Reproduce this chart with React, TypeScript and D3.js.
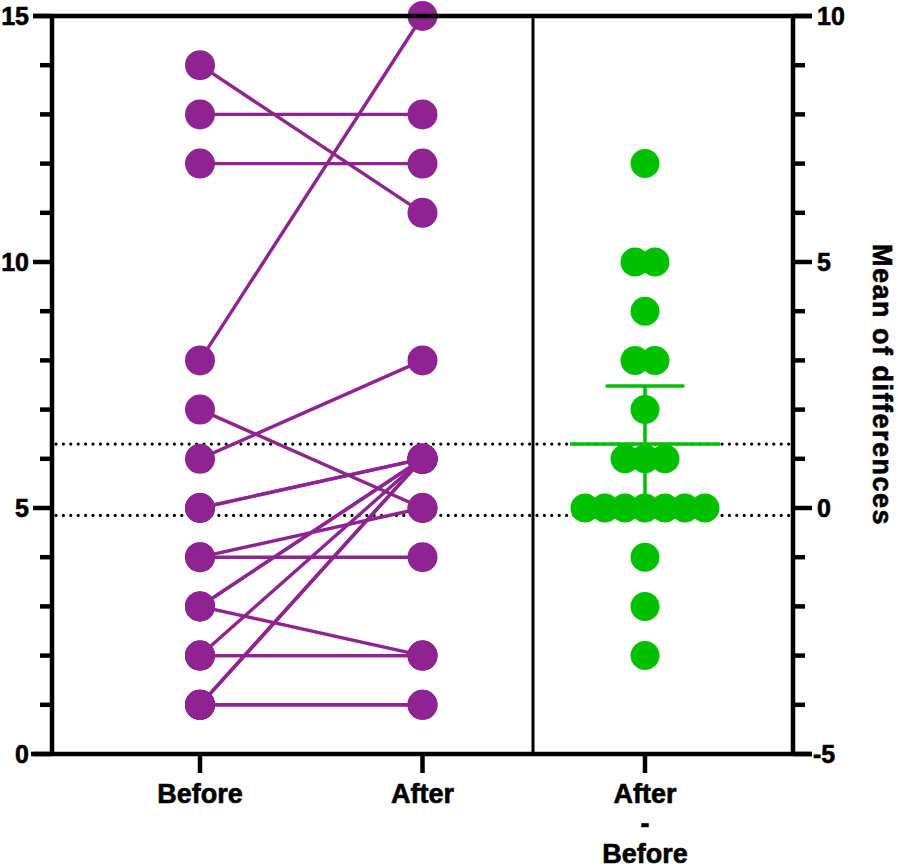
import React from "react";
import * as d3 from "d3";

// paired observations, one entry per subject
const beforeVals = [14, 13, 12, 8, 7, 6, 5, 5, 4, 4, 3, 3, 3, 2, 2, 2, 1, 1, 1, 1];
const afterVals = [11, 13, 12, 15, 5, 8, 6, 6, 5, 4, 6, 6, 2, 6, 2, 2, 6, 6, 1, 1];
const groups = ["Before", "After", "Diff"];
const groupLabels = [["Before"], ["After"], ["After", "-", "Before"]];
const leftDomain = [0, 15];
const rightDomain = [-5, 10];
const tCrit = 2.093; // t(0.975, df = 19)

const W = 898;
const H = 868;
const PURPLE = "#8f2391";
const GREEN = "#00c000";
const FONT = "'Liberation Sans', Arial, Helvetica, sans-serif";

export default function App() {
  const top = 16;
  const bottom = 754;
  const axL = 52;
  const axR = 793;
  const divX = 533;

  const yL = d3.scaleLinear().domain(leftDomain).range([bottom, top]);
  const yR = d3.scaleLinear().domain(rightDomain).range([bottom, top]);
  const x = d3.scalePoint().domain(groups).range([200, 645]);

  const diffs = beforeVals.map((b, i) => afterVals[i] - b);
  const meanBefore = d3.mean(beforeVals) as number;
  const meanDiff = d3.mean(diffs) as number;
  const ci = (tCrit * (d3.deviation(diffs) as number)) / Math.sqrt(diffs.length);

  // simple centred beeswarm for the differences
  const step = 20;
  const swarm: { v: number; dx: number }[] = [];
  d3.groups(diffs, (d) => d)
    .sort((a, b) => b[0] - a[0])
    .forEach(([v, arr]) => {
      arr.forEach((_, i) => swarm.push({ v, dx: (i - (arr.length - 1) / 2) * step }));
    });

  const r = 15;
  const xd = x("Diff") as number;
  const ticksL = yL.ticks(15);
  const ticksR = yR.ticks(15);

  return (
    <svg width={W} height={H} style={{ position: "absolute", left: 0, top: 0, background: "#fff" }}>
      {/* reference lines: mean of Before and mean difference */}
      <g stroke="#000" strokeWidth={3.2} strokeLinecap="round" strokeDasharray="0 7.4">
        <line x1={axL + 4} x2={axR - 4} y1={yL(meanBefore)} y2={yL(meanBefore)} />
        <line x1={axL + 4} x2={axR - 4} y1={yR(meanDiff)} y2={yR(meanDiff)} />
      </g>

      {/* paired lines */}
      <g stroke={PURPLE} strokeWidth={3.4}>
        {beforeVals.map((b, i) => (
          <line key={i} x1={x("Before")} x2={x("After")} y1={yL(b)} y2={yL(afterVals[i])} />
        ))}
      </g>
      <g fill={PURPLE}>
        {beforeVals.map((b, i) => (
          <circle key={"b" + i} cx={x("Before")} cy={yL(b)} r={r} />
        ))}
        {afterVals.map((a, i) => (
          <circle key={"a" + i} cx={x("After")} cy={yL(a)} r={r} />
        ))}
      </g>

      {/* CI of the mean difference */}
      <g stroke={GREEN} strokeWidth={3.5}>
        <line x1={xd} x2={xd} y1={yR(meanDiff + ci)} y2={yR(meanDiff - ci)} />
        <line x1={xd - 38} x2={xd + 38} y1={yR(meanDiff + ci)} y2={yR(meanDiff + ci)} strokeLinecap="round" />
        <line x1={xd - 38} x2={xd + 38} y1={yR(meanDiff - ci)} y2={yR(meanDiff - ci)} strokeLinecap="round" />
      </g>
      <g fill={GREEN}>
        {swarm.map((d, i) => (
          <circle key={i} cx={xd + d.dx} cy={yR(d.v)} r={14.5} />
        ))}
      </g>
      <line x1={xd - 75} x2={xd + 75} y1={yR(meanDiff)} y2={yR(meanDiff)} stroke={GREEN} strokeWidth={3.5} />

      {/* frame and axes */}
      <g stroke="#000">
        <line x1={axL} x2={axL} y1={top} y2={bottom} strokeWidth={4.5} />
        <line x1={axR} x2={axR} y1={top} y2={bottom} strokeWidth={4.5} />
        <line x1={divX} x2={divX} y1={top} y2={bottom} strokeWidth={3} />
        <line x1={33} x2={812} y1={top} y2={top} strokeWidth={4.5} />
        <line x1={31} x2={812} y1={bottom} y2={bottom} strokeWidth={4.5} />
        {ticksL.map((t) => (
          <line key={"tl" + t} x1={t % 5 === 0 ? 33 : 40} x2={axL} y1={yL(t)} y2={yL(t)} strokeWidth={4.5} />
        ))}
        {ticksR.map((t) => (
          <line key={"tr" + t} x1={axR} x2={t % 5 === 0 ? 812 : 805} y1={yR(t)} y2={yR(t)} strokeWidth={4.5} />
        ))}
        {groups.map((g) => (
          <line key={g} x1={x(g)} x2={x(g)} y1={bottom} y2={773} strokeWidth={4.5} />
        ))}
      </g>

      <g fontFamily={FONT} fontWeight="bold" fontSize={25} fill="#000" stroke="#000" strokeWidth={0.6}>
        {ticksL
          .filter((t) => t % 5 === 0)
          .map((t) => (
            <text key={"ll" + t} x={29} y={yL(t)} dy="0.36em" textAnchor="end">
              {t}
            </text>
          ))}
        {ticksR
          .filter((t) => t % 5 === 0)
          .map((t) => (
            <text key={"rl" + t} x={t < 0 ? 813 : 817} y={yR(t)} dy="0.36em" textAnchor="start">
              {t}
            </text>
          ))}
      </g>

      <g fontFamily={FONT} fontWeight="bold" fontSize={27} fill="#000" stroke="#000" strokeWidth={0.6} textAnchor="middle">
        {groups.map((g, gi) => (
          <text key={g} x={x(g)} y={803}>
            {groupLabels[gi].map((s, li) => (
              <tspan key={li} x={x(g)} dy={li === 0 ? 0 : 30}>
                {s}
              </tspan>
            ))}
          </text>
        ))}
        <text
          transform={`translate(873, ${(top + bottom) / 2}) rotate(90)`}
          letterSpacing={1.5}
        >
          Mean of differences
        </text>
      </g>
    </svg>
  );
}
